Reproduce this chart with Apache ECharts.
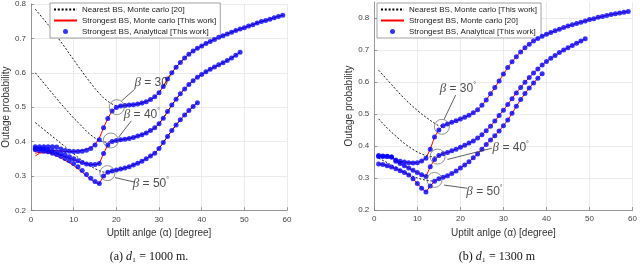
<!DOCTYPE html>
<html><head><meta charset="utf-8">
<script src="https://cdn.jsdelivr.net/npm/echarts@6/dist/echarts.min.js"></script>
<style>html,body{margin:0;padding:0;background:#fff}#c{width:640px;height:264px}</style>
</head><body><div id="c"></div>
<script>
// ---------- shared ----------
const yTickValues = [0.2,0.3,0.4,0.5,0.6,0.7,0.8];
const namesL = ['Nearest BS, Monte carlo [20]','Strongest BS, Monte carlo [This work]','Strongest BS, Analytical [This work]'];
const namesR = ['Nearest BS, Monte carlo [This work]','Strongest BS, Monte carlo [20]','Strongest BS, Analytical [This work]'];
const xName = 'Uptilt anlge (α) [degree]';
const yName = 'Outage probability';

// ---------- (a) d1 = 1000 m : values for alpha = 1,2,3,... ----------
const anL30 = [0.385,0.385,0.385,0.385,0.385,0.384,0.378,0.374,0.372,0.371,0.371,0.372,0.375,0.380,0.390,0.405,0.440,0.467,0.489,0.499,0.503,0.505,0.506,0.507,0.509,0.512,0.516,0.522,0.530,0.542,0.560,0.582,0.600,0.616,0.630,0.643,0.654,0.663,0.671,0.678,0.685,0.691,0.697,0.703,0.708,0.713,0.718,0.723,0.727,0.731,0.736,0.740,0.745,0.749,0.752,0.756,0.760,0.764,0.767];
const anL40 = [0.380,0.379,0.378,0.376,0.373,0.370,0.366,0.361,0.356,0.350,0.344,0.339,0.335,0.333,0.333,0.336,0.365,0.390,0.400,0.403,0.405,0.407,0.409,0.412,0.416,0.420,0.425,0.432,0.440,0.452,0.468,0.487,0.506,0.523,0.539,0.553,0.566,0.577,0.587,0.595,0.603,0.610,0.617,0.623,0.629,0.636,0.643,0.651,0.660];
const anL50 = [0.376,0.374,0.372,0.370,0.366,0.362,0.357,0.351,0.344,0.336,0.327,0.316,0.304,0.293,0.284,0.278,0.300,0.311,0.314,0.317,0.320,0.323,0.327,0.332,0.337,0.343,0.350,0.358,0.366,0.380,0.397,0.415,0.432,0.448,0.463,0.477,0.490,0.502,0.513];
// Monte carlo (strongest) where it differs from analytical (low alpha)
const mcL30Head = [0.372,0.374,0.375,0.375,0.374,0.373,0.372,0.371,0.371,0.371,0.372,0.374,0.377,0.382,0.392,0.410];
const mcL40Head = [0.366,0.369,0.370,0.369,0.367,0.364,0.360,0.356,0.352,0.347,0.342,0.338,0.335];
const mcL50Head = [0.358,0.366,0.368,0.367,0.364,0.358,0.352,0.345,0.338,0.330,0.321,0.311,0.300,0.290,0.281,0.277];
// Nearest BS before it joins the strongest curve
const nearL30Head = [0.785,0.770,0.755,0.740,0.724,0.707,0.690,0.673,0.655,0.638,0.620,0.603,0.586,0.570,0.554,0.540,0.527,0.517,0.509,0.504];
const nearL40Head = [0.600,0.585,0.570,0.555,0.540,0.525,0.510,0.496,0.482,0.468,0.456,0.443,0.430,0.419,0.410,0.403,0.399,0.398];
const nearL50Head = [0.455,0.445,0.435,0.425,0.415,0.405,0.395,0.385,0.374,0.364,0.354,0.345,0.336,0.328,0.321,0.315,0.311];
// annotations (alpha, probability)
const circL = [[20.1,0.500],[18.7,0.403],[17.9,0.308]];
const textL = [[28.5,0.571,'30'],[26.0,0.477,'40'],[28.1,0.278,'50']];
const arrowL = [[[24.3,0.552],[21.2,0.518]],[[23.5,0.460],[20.5,0.412]],[[24.3,0.282],[19.7,0.295]]];

// ---------- (b) d1 = 1300 m ----------
const anR30 = [0.367,0.367,0.367,0.366,0.356,0.352,0.350,0.348,0.347,0.348,0.353,0.362,0.390,0.428,0.450,0.463,0.469,0.474,0.479,0.484,0.490,0.496,0.504,0.513,0.527,0.544,0.563,0.583,0.603,0.625,0.645,0.663,0.679,0.694,0.707,0.718,0.728,0.736,0.743,0.749,0.755,0.760,0.765,0.770,0.775,0.779,0.783,0.787,0.791,0.795,0.798,0.802,0.805,0.808,0.811,0.813,0.816,0.818,0.820];
const anR40 = [0.370,0.369,0.368,0.366,0.352,0.345,0.338,0.331,0.324,0.317,0.310,0.305,0.335,0.358,0.370,0.376,0.380,0.385,0.390,0.396,0.402,0.409,0.416,0.425,0.435,0.448,0.462,0.478,0.495,0.512,0.530,0.548,0.566,0.583,0.599,0.614,0.628,0.641,0.653,0.664,0.674,0.683,0.692,0.700,0.707,0.714,0.721,0.728,0.735];
const anR50 = [0.344,0.342,0.338,0.334,0.329,0.323,0.317,0.309,0.298,0.283,0.268,0.256,0.275,0.290,0.298,0.302,0.307,0.314,0.322,0.331,0.341,0.351,0.363,0.375,0.390,0.405,0.419,0.432,0.447,0.463,0.481,0.502,0.524,0.545,0.564,0.581,0.597,0.612,0.626];
const nearR30Head = [0.637,0.622,0.607,0.592,0.577,0.562,0.548,0.535,0.523,0.511,0.500,0.490,0.480,0.471,0.463];
const nearR40Head = [0.485,0.470,0.456,0.443,0.431,0.419,0.408,0.398,0.389,0.381,0.375,0.370,0.367,0.366];
const nearR50Head = [0.362,0.355,0.348,0.340,0.333,0.326,0.318,0.311,0.305,0.300,0.296,0.293,0.291];
const circR = [[15.7,0.460],[14.7,0.367],[14.0,0.294]];
const textR = [[19.4,0.580,'30'],[31.7,0.396,'40'],[25.6,0.257,'50']];
const arrowR = [[[18.9,0.559],[16.2,0.483]],[[27.3,0.393],[17.0,0.358]],[[21.6,0.268],[16.2,0.278]]];

// ---------- assemble ----------
const pts = arr => arr.map((v,i) => [i+1, v]);
const joinFull = (head, full) => head.concat(full.slice(head.length));
const joinOne = (head, full) => head.concat(full.slice(head.length, head.length+1));

const mcL = [joinFull(mcL30Head, anL30), joinFull(mcL40Head, anL40), joinFull(mcL50Head, anL50)];
const anL = [anL30, anL40, anL50];
const nearL = [joinFull(nearL30Head, anL30), joinFull(nearL40Head, anL40), joinFull(nearL50Head, anL50)];
const mcR = [anR30, anR40, anR50];
const anR = [anR30, anR40, anR50];
const nearR = [joinOne(nearR30Head, anR30), joinOne(nearR40Head, anR40), joinOne(nearR50Head, anR50)];

function panelSeries(idx, names, mc, an, near, circ, txt, arr) {
  const s = [];
  mc.forEach(d => s.push({type:'line', name:names[1], xAxisIndex:idx, yAxisIndex:idx, data:pts(d),
    symbol:'none', z:2, lineStyle:{color:'#ff0000', width:1}, itemStyle:{color:'#ff0000'}}));
  near.forEach(d => s.push({type:'line', name:names[0], xAxisIndex:idx, yAxisIndex:idx, data:pts(d),
    symbol:'none', z:3, lineStyle:{color:'#000000', width:0.9, type:[2,1.8]}, itemStyle:{color:'#000000'}}));
  an.forEach(d => s.push({type:'scatter', name:names[2], xAxisIndex:idx, yAxisIndex:idx, data:pts(d),
    symbol:'circle', symbolSize:5, z:4, itemStyle:{color:'#0000ff'}}));
  s.push({type:'scatter', name:'circ'+idx, xAxisIndex:idx, yAxisIndex:idx, data:circ, symbol:'circle', symbolSize:15, z:5,
    itemStyle:{color:'rgba(0,0,0,0)', borderColor:'#555', borderWidth:0.8}, silent:true,
    markLine:{silent:true, symbol:['none','arrow'], symbolSize:[0,7], animation:false,
      lineStyle:{color:'#333', width:0.8, type:'solid'}, label:{show:false},
      emphasis:{disabled:true},
      data: arr.map(a => [{coord:a[0]},{coord:a[1]}])}});
  s.push({type:'scatter', name:'txt'+idx, xAxisIndex:idx, yAxisIndex:idx, silent:true, z:6,
    data: txt.map(t => ({value:[t[0],t[1]], name:t[2]})), symbol:'circle', symbolSize:1,
    itemStyle:{color:'rgba(0,0,0,0)'},
    label:{show:true, position:'inside', color:'#222', fontFamily:'Liberation Sans', fontSize:12,
      formatter: p => '{b|β} = ' + p.name + '{s|°}',
      rich:{b:{fontFamily:'Liberation Serif', fontStyle:'italic', fontSize:13, color:'#222'},
            s:{fontSize:7, color:'#222', verticalAlign:'top', lineHeight:14}}}});
  return s;
}

const axisCommon = {
  axisLine:{show:true, onZero:false, lineStyle:{color:'#808080', width:0.8}},
  axisTick:{show:true, inside:true, length:3, lineStyle:{color:'#808080', width:0.8}},
  axisLabel:{color:'#444', fontSize:8, fontFamily:'Liberation Sans', margin:5},
  splitLine:{show:true, lineStyle:{color:'#e6e6e6', width:0.8}},
  nameTextStyle:{color:'#333', fontSize:10, fontFamily:'Liberation Sans'}
};
function xAx(idx){ return Object.assign({}, axisCommon, {type:'value', gridIndex:idx, min:0, max:60, interval:10,
  name:xName, nameLocation:'middle', nameGap:15}); }
function yAx(idx, max){
  const a = Object.assign({}, axisCommon, {type:'value', gridIndex:idx, min:0.2, max:max, interval:0.1,
    name:yName, nameLocation:'middle', nameGap:17});
  a.axisLabel = Object.assign({}, axisCommon.axisLabel, {customValues:yTickValues, formatter: v => v.toFixed(1)});
  a.axisTick = Object.assign({}, axisCommon.axisTick, {customValues:yTickValues});
  return a;
}
const hideSym = {color:'rgba(0,0,0,0)', borderWidth:0, borderColor:'rgba(0,0,0,0)'};
function legendFor(names, left){
  return {data:[{name:names[0], itemStyle:hideSym},{name:names[1], itemStyle:hideSym},{name:names[2]}],
    left:left, top:3, orient:'vertical', itemWidth:23, itemHeight:5, itemGap:2,
    padding:[2,4,2,3], backgroundColor:'#fff', borderColor:'#8c8c8c', borderWidth:0.8, selectedMode:false,
    textStyle:{fontSize:8, color:'#222', fontFamily:'Liberation Sans', lineHeight:9}};
}

const chart = echarts.init(document.getElementById('c'), null, {renderer:'canvas'});
chart.setOption({
  animation:false,
  backgroundColor:'#fff',
  grid:[{left:26, width:261, top:2, height:208.3}, {left:374.3, width:261.4, top:2, height:208}],
  xAxis:[xAx(0), xAx(1)],
  yAxis:[yAx(0, 0.8), yAx(1, 0.85)],
  legend:[legendFor(namesL, 50), legendFor(namesR, 377)],
  series: panelSeries(0, namesL, mcL, anL, nearL, circL, textL, arrowL)
    .concat(panelSeries(1, namesR, mcR, anR, nearR, circR, textR, arrowR)),
  graphic:[
    {type:'text', x:149, y:257, style:{text:'(a) {i|d}₁ = 1000 m.', textAlign:'center', textVerticalAlign:'middle',
      font:'12px "Liberation Serif"', fill:'#111', rich:{i:{fontStyle:'italic', fontFamily:'Liberation Serif', fontSize:12}}}},
    {type:'text', x:497, y:257, style:{text:'(b) {i|d}₁ = 1300 m', textAlign:'center', textVerticalAlign:'middle',
      font:'12px "Liberation Serif"', fill:'#111', rich:{i:{fontStyle:'italic', fontFamily:'Liberation Serif', fontSize:12}}}}
  ]
});
</script></body></html>
